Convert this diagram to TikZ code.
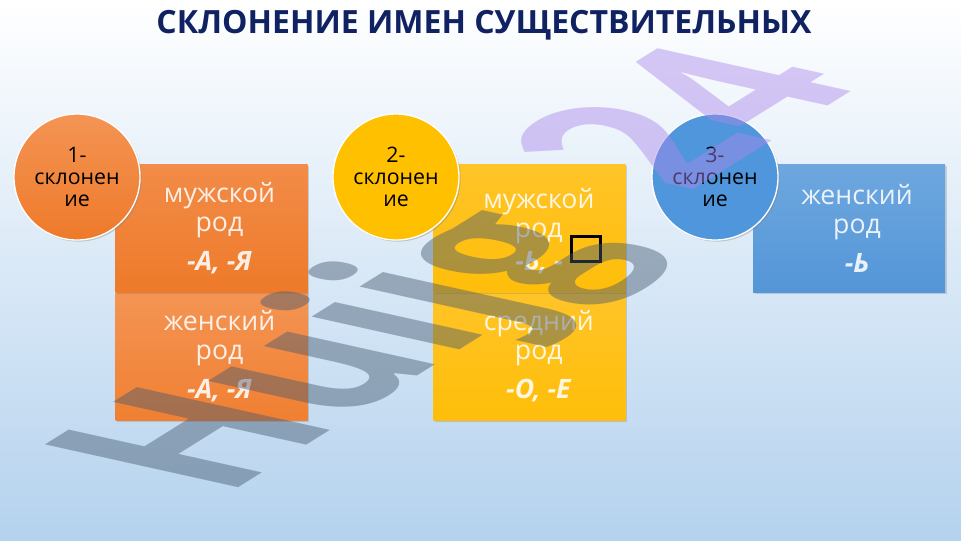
\documentclass[tikz,border=0pt]{standalone}
\usepackage{fontspec}
\setmainfont{Open Sans}
\usetikzlibrary{shadows}
\definecolor{titleblue}{RGB}{16,34,98}
\definecolor{bgmid}{RGB}{216,231,245}
\definecolor{bgbot}{RGB}{180,210,238}
\definecolor{orA}{RGB}{242,140,72}
\definecolor{orB}{RGB}{238,122,42}
\definecolor{orC}{RGB}{244,148,84}
\definecolor{orD}{RGB}{240,128,50}
\definecolor{yeA}{RGB}{255,196,40}
\definecolor{yeB}{RGB}{255,190,10}
\definecolor{ciY}{RGB}{255,192,0}
\definecolor{blA}{RGB}{110,167,223}
\definecolor{blB}{RGB}{84,150,216}
\definecolor{ciB}{RGB}{80,150,220}
\definecolor{wmgray}{RGB}{70,90,112}
\definecolor{wmlav}{RGB}{170,135,235}
\tikzset{
  titletext/.style={font=\fontsize{24}{28}\selectfont\bfseries, text=titleblue, inner sep=0},
  circ/.style={circle, minimum size=94.5pt, inner sep=0, draw=white, line width=1pt,
    align=center, font=\fontsize{16}{16.5}\selectfont, text=black,
    drop shadow={shadow xshift=1.2pt, shadow yshift=-1.2pt, opacity=0.35}},
  box/.style={rectangle, minimum width=144pt, minimum height=96pt, inner sep=0,
    drop shadow={shadow xshift=1.2pt, shadow yshift=-1.2pt, opacity=0.3}},
  boxtext/.style={align=center, text=white, text opacity=0.87, inner sep=0,
    font=\fontsize{20}{22}\selectfont},
  ending/.style={font=\fontsize{20}{22}\selectfont\bfseries\itshape, text=white, text opacity=0.87, inner sep=0},
  missing/.style={draw=black, line width=2.25pt, minimum width=21.75pt, minimum height=18.75pt, inner sep=0},
  watermark/.style={transform shape, anchor=base west, inner sep=0,
    font=\fontsize{100}{100}\selectfont\bfseries, text opacity=0.45}
}
\begin{document}
\begin{tikzpicture}[x=0.75pt,y=-0.75pt]
\useasboundingbox (0,0) rectangle (961,540);
\shade[top color=white, middle color=bgmid, bottom color=bgbot] (0,0) rectangle (961,540);

\node[titletext] (title) at (484,25) {СКЛОНЕНИЕ ИМЕН СУЩЕСТВИТЕЛЬНЫХ};

% first declension
\node[box, top color=orC, bottom color=orD] (f1) at (211.5,356) {};
\node[box, top color=orA, bottom color=orB] (m1) at (211.5,228) {};
\node[boxtext] (tf1) at ([xshift=6pt]f1.center) {женский\\род\\[7pt]\textbf{\textit{-А, -Я}}};
\node[boxtext] (tm1) at ([xshift=6pt]m1.center) {мужской\\род\\[7pt]\textbf{\textit{-А, -Я}}};
\node[circ, top color=orC, bottom color=orB] (c1) at (77,177) {1-\\склонен\\ие};

% second declension
\node[box, top color=yeA, bottom color=yeB] (n2) at (529.5,356) {};
\node[box, top color=yeA, bottom color=yeB] (m2) at (529.5,228) {};
\node[boxtext] (tn2) at ([xshift=7pt]n2.center) {средний\\род\\[7pt]\textbf{\textit{-О, -Е}}};
\node[boxtext] (tm2) at ([xshift=7pt, yshift=-3pt]m2.center) {мужской\\род\\[7pt]\phantom{\textbf{\textit{-Ь}}}};
\node[ending] (e2) at (539,263) {-Ь, -};
\node[missing] (sq) at (586,249) {};
\node[circ, fill=ciY] (c2) at (396,177) {2-\\склонен\\ие};

% third declension
\node[box, top color=blA, bottom color=blB] (f3) at (849,228) {};
\node[boxtext] (tf3) at ([xshift=6pt]f3.center) {женский\\род\\[7pt]\textbf{\textit{-Ь}}};
\node[circ, fill=ciB] (c3) at (715,177) {3-\\склонен\\ие};

% watermark
\begin{scope}[shift={(224,497)}, cm={1.177,0.735,-2.03,0.45,(0,0)}]
\node[watermark] (wm1) at (0,0) {\textcolor{wmgray}{Huijg}};
\end{scope}
\begin{scope}[shift={(wm1.base east)}, shift={(55,-48)}, cm={1.177,0.735,-2.03,0.45,(0,0)}]
\node[watermark] (wm2) at (0,0) {\textcolor{wmlav}{24}};
\end{scope}
\end{tikzpicture}
\end{document}
